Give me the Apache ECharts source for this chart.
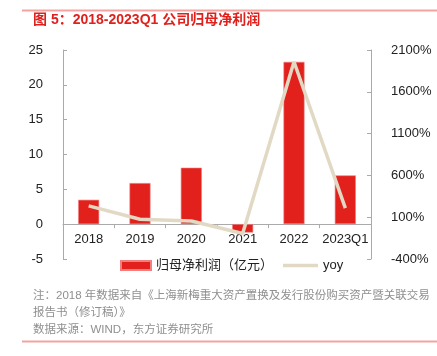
<!DOCTYPE html>
<html><head><meta charset="utf-8">
<script src="https://cdn.jsdelivr.net/npm/echarts@6/dist/echarts.min.js"></script>
<style>html,body{margin:0;padding:0;background:#fff}#c{width:437px;height:356px}</style>
</head><body><div id="c"></div>
<script>
const categories = ['2018','2019','2020','2021','2022','2023Q1'];
const profit = [3.5, 5.9, 8.1, -1.2, 23.3, 7.0];
const yoy = [235, 76, 55, -95, 1960, 208];
const leftTicks = {min:-5, max:25, interval:5};
const rightTicks = {min:-400, max:2100, interval:500};

const cjk = '"Liberation Sans","Noto Sans CJK SC",sans-serif';
const gridTop = 50, gridBottom = 97, H = 356;
const plotH = H - gridTop - gridBottom;
const zeroOffset = -plotH * (0 - leftTicks.min) / (leftTicks.max - leftTicks.min);

const chart = echarts.init(document.getElementById('c'), null, {renderer:'canvas'});
chart.setOption({
  animation:false,
  textStyle:{fontFamily:cjk},
  grid:{left:63, right:66, top:gridTop, bottom:gridBottom, containLabel:false},
  legend:[
    {left:120, top:259, padding:0, itemWidth:30, itemHeight:9,
     textStyle:{fontSize:13, color:'#222', fontFamily:cjk},
     data:[{name:'归母净利润（亿元）', icon:'rect'}]},
    {left:283, top:259, padding:0, itemWidth:35, itemHeight:3.5, itemGap:4,
     textStyle:{fontSize:13, color:'#222', fontFamily:cjk},
     data:[{name:'yoy', icon:'rect', itemStyle:{color:'#e2d9c4'}}]}
  ],
  xAxis:{
    type:'category', data:categories, position:'bottom', offset:zeroOffset,
    axisLine:{onZero:false, lineStyle:{color:'#aaa', width:1}},
    axisTick:{show:true, length:4, lineStyle:{color:'#aaa'}},
    axisLabel:{color:'#222', fontSize:13, margin:9, interval:0}
  },
  yAxis:[
    {type:'value', min:leftTicks.min, max:leftTicks.max, interval:leftTicks.interval,
     splitLine:{show:false},
     axisLine:{show:true, lineStyle:{color:'#aaa'}},
     axisTick:{show:true, inside:true, length:4, lineStyle:{color:'#aaa'}},
     axisLabel:{color:'#222', fontSize:13, margin:20}},
    {type:'value', min:rightTicks.min, max:rightTicks.max, interval:rightTicks.interval,
     splitLine:{show:false},
     axisLine:{show:true, lineStyle:{color:'#aaa'}},
     axisTick:{show:true, inside:true, length:4, lineStyle:{color:'#aaa'}},
     axisLabel:{color:'#222', fontSize:13, margin:20, formatter:v=>v+'%'}}
  ],
  series:[
    {name:'归母净利润（亿元）', type:'bar', data:profit, barWidth:21,
     itemStyle:{color:'#e2201c', borderColor:'#f08080', borderWidth:0.6}},
    {name:'yoy', type:'line', yAxisIndex:1, data:yoy, symbol:'none',
     lineStyle:{color:'#e2d9c4', width:3.5}, itemStyle:{color:'#e2d9c4'}}
  ],
  graphic:[
    {type:'line', shape:{x1:22, y1:10.5, x2:437, y2:10.5}, style:{stroke:'#f4a3a0', lineWidth:2}},
    {type:'text', left:33, top:13, style:{text:'图 5：2018-2023Q1 公司归母净利润', fill:'#e0201c', font:'bold 14px "Liberation Sans","Noto Sans CJK SC",sans-serif'}},
    {type:'text', left:33, top:290, style:{text:'注：2018 年数据来自《上海新梅重大资产置换及发行股份购买资产暨关联交易', fill:'#8f8f8f', font:'11.5px "Liberation Sans","Noto Sans CJK SC",sans-serif'}},
    {type:'text', left:33, top:307, style:{text:'报告书（修订稿）》', fill:'#8f8f8f', font:'11.5px "Liberation Sans","Noto Sans CJK SC",sans-serif'}},
    {type:'text', left:33, top:324, style:{text:'数据来源：WIND，东方证券研究所', fill:'#8f8f8f', font:'11.5px "Liberation Sans","Noto Sans CJK SC",sans-serif'}},
    {type:'line', shape:{x1:22, y1:341.5, x2:437, y2:341.5}, style:{stroke:'#f4a3a0', lineWidth:2}}
  ]
});
</script></body></html>
